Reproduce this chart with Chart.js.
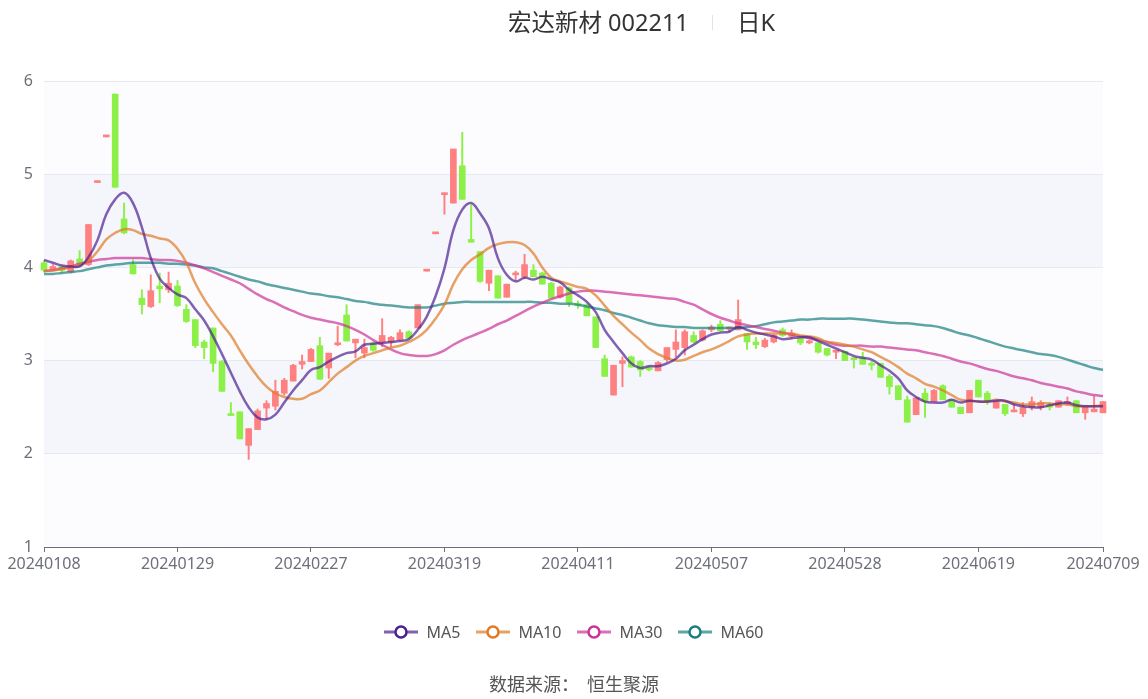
<!DOCTYPE html>
<html>
<head>
<meta charset="utf-8">
<script src="https://cdn.jsdelivr.net/npm/chart.js@4.4.1/dist/chart.umd.min.js"></script>
<style>
html,body{margin:0;padding:0;background:#fff;}
#wrap{position:relative;width:1148px;height:699px;overflow:hidden;font-family:"Noto Sans","Noto Sans CJK SC",sans-serif;}
#c{position:absolute;left:0;top:0;}
.t{position:absolute;white-space:nowrap;color:#333;font-size:23.5px;line-height:32px;top:6px;font-family:"Noto Sans","Noto Sans CJK SC",sans-serif;}
#sep{position:absolute;left:712px;top:15px;width:1px;height:15px;background:#e3e3e3;}
#legend{position:absolute;left:0;top:620px;width:1148px;height:24px;display:flex;justify-content:center;align-items:center;gap:16px;}
.li{display:flex;align-items:center;}
.li span{margin-left:8px;font-size:16px;color:#555;}
#foot{position:absolute;left:0;top:670px;width:1148px;text-align:center;font-size:18px;color:#555;font-family:"Noto Sans CJK SC",sans-serif;}
</style>
</head>
<body>
<div id="wrap">
<canvas id="c" width="1148" height="699"></canvas>
<div class="t" style="left:508px">宏达新材 002211</div>
<div id="sep"></div>
<div class="t" style="left:737px">日K</div>
<div id="legend"></div>
<div id="foot">数据来源：&nbsp;&nbsp;恒生聚源</div>
</div>
<script>
const dates = [
'20240108','20240109','20240110','20240111','20240112','20240115','20240116','20240117','20240118','20240119','20240122','20240123','20240124','20240125','20240126','20240129','20240130','20240131',
'20240201','20240202','20240205','20240206','20240207','20240208','20240219','20240220','20240221','20240222','20240223','20240226','20240227','20240228','20240229',
'20240301','20240304','20240305','20240306','20240307','20240308','20240311','20240312','20240313','20240314','20240315','20240318','20240319','20240320','20240321','20240322','20240325','20240326','20240327','20240328','20240329',
'20240401','20240402','20240403','20240408','20240409','20240410','20240411','20240412','20240415','20240416','20240417','20240418','20240419','20240422','20240423','20240424','20240425','20240426','20240429','20240430',
'20240506','20240507','20240508','20240509','20240510','20240513','20240514','20240515','20240516','20240517','20240520','20240521','20240522','20240523','20240524','20240527','20240528','20240529','20240530','20240531',
'20240603','20240604','20240605','20240606','20240607','20240611','20240612','20240613','20240614','20240617','20240618','20240619','20240620','20240621','20240624','20240625','20240626','20240627','20240628',
'20240701','20240702','20240703','20240704','20240705','20240708','20240709'];

const tickLabels = ['20240108','20240129','20240227','20240319','20240411','20240507','20240528','20240619','20240709'];
const yTicks = [1,2,3,4,5,6];

const openP = [
4.05,3.98,4.01,3.95,4.09,4.03,4.91,5.40,5.86,4.52,
4.03,3.67,3.58,3.80,3.76,3.80,3.55,3.44,3.20,3.35,
2.99,2.43,2.45,2.09,2.26,2.49,2.51,2.65,2.78,2.96,
2.99,3.16,2.92,3.17,3.49,3.19,3.08,3.19,3.20,3.20,
3.22,3.31,3.35,3.96,4.36,4.78,4.69,5.09,4.30,4.17,
3.83,3.91,3.68,3.92,3.90,3.97,3.94,3.83,3.68,3.78,
3.61,3.60,3.47,3.02,2.63,2.97,3.04,2.99,2.93,2.89,
3.01,3.12,3.14,3.27,3.22,3.33,3.39,3.34,3.33,3.29,
3.20,3.15,3.20,3.33,3.26,3.24,3.19,3.19,3.13,3.09,
3.10,3.02,3.03,2.97,2.97,2.83,2.73,2.58,2.42,2.65,
2.56,2.73,2.58,2.50,2.44,2.79,2.65,2.49,2.53,2.45,
2.43,2.50,2.50,2.52,2.50,2.53,2.57,2.44,2.45,2.44];

const highP = [
4.07,4.03,4.02,4.08,4.18,4.46,4.91,5.40,5.86,4.69,
4.08,3.76,3.92,3.94,3.95,3.86,3.60,3.44,3.22,3.35,
3.00,2.55,2.45,2.27,2.48,2.57,2.79,2.81,2.96,3.06,
3.13,3.25,3.08,3.37,3.60,3.23,3.23,3.20,3.45,3.26,
3.33,3.32,3.60,3.96,4.36,4.80,5.27,5.45,4.67,4.17,
3.97,3.91,3.82,3.96,4.14,4.03,3.95,3.84,3.80,3.79,
3.64,3.61,3.47,3.06,2.95,3.04,3.05,3.00,2.94,2.99,
3.14,3.33,3.33,3.31,3.33,3.38,3.43,3.36,3.65,3.29,
3.25,3.24,3.28,3.35,3.33,3.24,3.22,3.19,3.13,3.11,
3.10,3.02,3.09,2.99,2.97,2.85,2.73,2.62,2.60,2.70,
2.69,2.74,2.58,2.50,2.68,2.79,2.67,2.56,2.53,2.54,
2.55,2.61,2.57,2.55,2.57,2.61,2.57,2.50,2.62,2.56];

const lowP = [
3.95,3.97,3.95,3.94,4.02,4.02,4.91,5.40,4.86,4.36,
3.93,3.50,3.57,3.62,3.73,3.58,3.41,3.14,3.02,2.88,
2.67,2.41,2.16,1.94,2.26,2.37,2.47,2.63,2.78,2.91,
2.99,2.80,2.81,3.16,3.21,3.03,3.03,3.10,3.15,3.15,
3.22,3.24,3.35,3.96,4.36,4.57,4.69,4.73,4.27,3.84,
3.75,3.67,3.68,3.86,3.88,3.90,3.82,3.67,3.67,3.58,
3.56,3.48,3.14,2.83,2.63,2.72,2.93,2.83,2.89,2.89,
2.99,3.04,3.06,3.19,3.21,3.31,3.31,3.31,3.33,3.12,
3.13,3.14,3.19,3.26,3.24,3.17,3.18,3.08,3.05,3.02,
3.00,2.92,2.96,2.90,2.82,2.64,2.58,2.34,2.42,2.39,
2.56,2.58,2.50,2.43,2.44,2.61,2.53,2.49,2.41,2.45,
2.40,2.47,2.47,2.47,2.50,2.52,2.44,2.37,2.45,2.44];

const closeP = [
3.97,4.01,3.97,4.07,4.03,4.46,4.91,5.40,4.86,4.37,
3.93,3.60,3.75,3.77,3.83,3.59,3.42,3.16,3.14,2.97,
2.67,2.41,2.16,2.27,2.46,2.54,2.67,2.79,2.95,2.99,
3.12,2.80,3.08,3.19,3.21,3.23,3.14,3.11,3.27,3.25,
3.30,3.24,3.60,3.96,4.36,4.80,5.27,4.73,4.27,3.85,
3.97,3.67,3.82,3.94,4.03,3.90,3.82,3.67,3.79,3.62,
3.59,3.48,3.14,2.83,2.95,3.00,2.93,2.90,2.90,2.98,
3.14,3.20,3.31,3.20,3.32,3.36,3.32,3.35,3.44,3.20,
3.17,3.22,3.27,3.27,3.29,3.19,3.21,3.09,3.06,3.11,
3.00,3.01,2.96,2.95,2.82,2.72,2.58,2.34,2.60,2.56,
2.68,2.58,2.50,2.43,2.68,2.61,2.57,2.56,2.43,2.47,
2.50,2.56,2.55,2.50,2.57,2.56,2.44,2.50,2.48,2.56];

const ma5 = [
4.08,4.05,4.02,4.01,4.01,4.11,4.29,4.57,4.73,4.80,
4.69,4.43,4.10,3.88,3.78,3.71,3.67,3.55,3.43,3.26,
3.07,2.87,2.67,2.50,2.39,2.37,2.42,2.55,2.68,2.79,
2.90,2.93,2.99,3.04,3.08,3.10,3.17,3.18,3.19,3.20,
3.21,3.23,3.33,3.47,3.69,3.99,4.40,4.62,4.69,4.58,
4.42,4.10,3.92,3.85,3.89,3.87,3.90,3.87,3.84,3.76,
3.70,3.63,3.52,3.33,3.20,3.08,2.97,2.92,2.94,2.94,
2.97,3.02,3.11,3.17,3.23,3.28,3.30,3.31,3.36,3.33,
3.30,3.28,3.26,3.23,3.24,3.25,3.25,3.21,3.17,3.13,
3.09,3.05,3.03,3.01,2.95,2.89,2.81,2.68,2.61,2.56,
2.55,2.55,2.58,2.55,2.57,2.56,2.56,2.57,2.57,2.53,
2.51,2.50,2.50,2.52,2.54,2.55,2.52,2.51,2.51,2.51];

const ma10 = [
3.96,3.97,3.98,4.00,4.02,4.07,4.17,4.30,4.37,4.41,
4.40,4.36,4.34,4.31,4.29,4.20,4.05,3.83,3.66,3.52,
3.39,3.27,3.11,2.96,2.83,2.72,2.65,2.61,2.59,2.59,
2.64,2.68,2.77,2.86,2.93,3.00,3.05,3.08,3.11,3.14,
3.16,3.20,3.25,3.33,3.45,3.60,3.82,3.98,4.08,4.14,
4.21,4.25,4.27,4.27,4.24,4.15,4.00,3.89,3.85,3.82,
3.79,3.77,3.70,3.59,3.48,3.39,3.30,3.22,3.13,3.07,
3.03,3.00,3.01,3.05,3.09,3.12,3.16,3.21,3.26,3.28,
3.29,3.29,3.29,3.29,3.29,3.27,3.26,3.24,3.20,3.19,
3.17,3.15,3.12,3.09,3.04,2.99,2.93,2.86,2.81,2.75,
2.72,2.68,2.63,2.58,2.57,2.56,2.56,2.58,2.56,2.55,
2.53,2.53,2.54,2.54,2.53,2.53,2.51,2.51,2.51,2.52];

const ma30 = [
3.96,3.97,3.99,4.01,4.04,4.06,4.08,4.09,4.10,4.10,
4.10,4.10,4.09,4.08,4.08,4.07,4.05,4.02,3.99,3.95,
3.91,3.87,3.83,3.77,3.71,3.66,3.62,3.57,3.53,3.49,
3.46,3.44,3.42,3.40,3.37,3.33,3.28,3.22,3.17,3.12,
3.08,3.06,3.05,3.05,3.07,3.11,3.17,3.22,3.26,3.30,
3.34,3.39,3.43,3.48,3.53,3.58,3.62,3.66,3.69,3.72,
3.74,3.75,3.75,3.74,3.73,3.72,3.71,3.70,3.69,3.68,
3.67,3.66,3.63,3.60,3.55,3.50,3.46,3.43,3.40,3.38,
3.36,3.34,3.32,3.30,3.28,3.26,3.24,3.22,3.20,3.17,
3.16,3.16,3.16,3.15,3.15,3.14,3.13,3.12,3.11,3.09,
3.07,3.05,3.02,2.99,2.97,2.94,2.91,2.89,2.86,2.83,
2.81,2.79,2.76,2.74,2.72,2.70,2.67,2.65,2.63,2.62];

const ma60 = [
3.93,3.93,3.94,3.95,3.96,3.98,4.00,4.02,4.03,4.04,
4.05,4.05,4.05,4.05,4.04,4.04,4.03,4.02,4.00,3.99,
3.96,3.93,3.90,3.87,3.85,3.82,3.80,3.78,3.76,3.74,
3.72,3.71,3.69,3.68,3.66,3.64,3.63,3.61,3.60,3.59,
3.58,3.57,3.57,3.57,3.59,3.61,3.62,3.63,3.63,3.63,
3.63,3.63,3.63,3.63,3.63,3.63,3.62,3.62,3.61,3.61,
3.60,3.58,3.56,3.54,3.51,3.49,3.46,3.43,3.40,3.38,
3.37,3.36,3.36,3.35,3.35,3.35,3.35,3.35,3.35,3.36,
3.37,3.39,3.41,3.42,3.43,3.44,3.44,3.45,3.45,3.45,
3.45,3.45,3.44,3.43,3.42,3.41,3.40,3.40,3.39,3.38,
3.37,3.35,3.32,3.29,3.27,3.24,3.21,3.18,3.15,3.13,
3.11,3.09,3.07,3.06,3.04,3.01,2.98,2.95,2.92,2.90];

const UP = '#ff8080', DOWN = '#8df049';
const maSeries = [
  {name:'MA5',  data:ma5,  line:'rgba(75,31,145,0.7)',  dot:'#4b1f91'},
  {name:'MA10', data:ma10, line:'rgba(224,122,35,0.7)', dot:'#e07a23'},
  {name:'MA30', data:ma30, line:'rgba(204,51,153,0.7)', dot:'#cc3399'},
  {name:'MA60', data:ma60, line:'rgba(26,127,127,0.7)', dot:'#1a7f7f'}
];

const colors = closeP.map((c,i)=> c >= openP[i] ? UP : DOWN);
const bodies = closeP.map((c,i)=> [openP[i], c]);
const wicks = closeP.map((c,i)=> [lowP[i], highP[i]]);

const FONT = '"Noto Sans","Noto Sans CJK SC",sans-serif';

const bands = {
  id:'bands',
  beforeDraw(chart){
    const {ctx, chartArea:a, scales:{y}} = chart;
    ctx.save();
    for (let k=0;k<yTicks.length-1;k++){
      const v = yTicks[k];
      const top = y.getPixelForValue(yTicks[k+1]), bot = y.getPixelForValue(v);
      ctx.fillStyle = (k%2===1) ? '#f4f6fb' : '#fcfcfe';
      ctx.fillRect(a.left, top, a.right-a.left, bot-top);
    }
    ctx.restore();
  }
};

const datasets = maSeries.map(s=>({
  type:'line', label:s.name, data:s.data, borderColor:s.line, borderWidth:2.5,
  pointRadius:0, tension:0.4, order:0, fill:false
}));
datasets.push({type:'bar', label:'body', data:bodies, backgroundColor:colors, barThickness:6,
  grouped:false, minBarLength:2, order:1, clip:false});
datasets.push({type:'bar', label:'wick', data:wicks, backgroundColor:colors, barThickness:1.3,
  grouped:false, order:2, clip:false});

new Chart(document.getElementById('c'), {
  type:'bar',
  data:{labels:dates, datasets},
  plugins:[bands],
  options:{
    responsive:false, animation:false,
    layout:{padding:{left:0,right:45,top:81,bottom:122}},
    plugins:{legend:{display:false}, tooltip:{enabled:false}},
    scales:{
      x:{
        type:'category', offset:false,
        grid:{display:true, offset:false, drawOnChartArea:false, drawTicks:true, tickLength:5, tickColor:'#6e7079'},
        border:{display:true, color:'#6e7079', width:1},
        ticks:{autoSkip:false, maxRotation:0, minRotation:0, color:'#6e7079', padding:3,
          font:{size:16, family:FONT},
          callback:function(v){ return this.getLabelForValue(v); }},
        afterBuildTicks:(axis)=>{ axis.ticks = axis.ticks.filter(t=>tickLabels.includes(dates[t.value])); },
        afterFit:(s)=>{ s.paddingLeft=0; s.paddingRight=0; s.height=30; }
      },
      y:{
        min:yTicks[0], max:yTicks[yTicks.length-1],
        ticks:{stepSize:1, color:'#6e7079', padding:11, font:{size:16, family:FONT}},
        grid:{color:'#e6e9f1', drawTicks:false, lineWidth:1},
        border:{display:false},
        afterFit:(s)=>{ s.width=44; s.paddingTop=0; s.paddingBottom=0; }
      }
    }
  }
});

const lg = document.getElementById('legend');
maSeries.forEach(s=>{
  const d = document.createElement('div'); d.className='li';
  d.innerHTML = '<svg width="34" height="16"><line x1="0" y1="8" x2="34" y2="8" stroke="'+s.line+'" stroke-width="3"/>'+
    '<circle cx="17" cy="8" r="5.5" fill="#fff" stroke="'+s.dot+'" stroke-width="2.5"/></svg><span>'+s.name+'</span>';
  lg.appendChild(d);
});
</script>
</body>
</html>
